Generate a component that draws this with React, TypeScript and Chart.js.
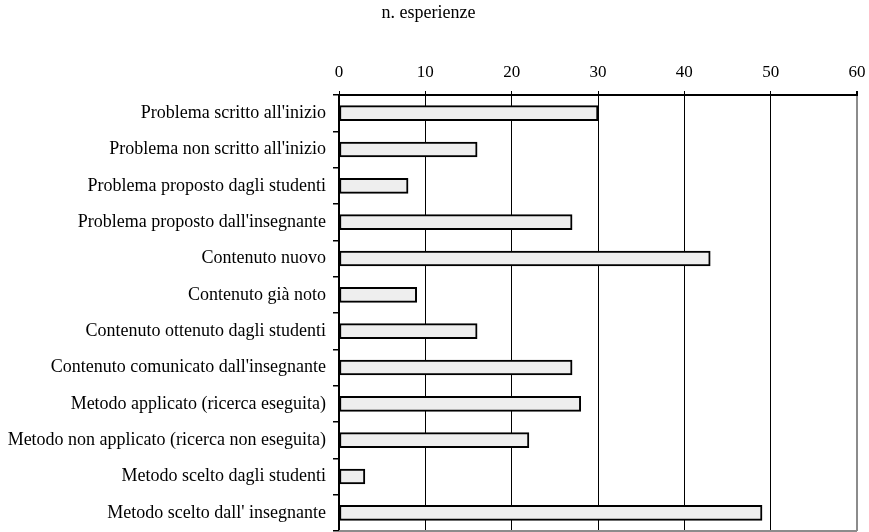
import React, { useEffect, useRef } from "react";
import { Chart, registerables } from "chart.js";

Chart.register(...registerables);

const title = "n. esperienze";
const categories = [
  "Problema scritto all'inizio",
  "Problema non scritto all'inizio",
  "Problema proposto dagli studenti",
  "Problema proposto dall'insegnante",
  "Contenuto nuovo",
  "Contenuto già noto",
  "Contenuto ottenuto dagli studenti",
  "Contenuto comunicato dall'insegnante",
  "Metodo applicato (ricerca eseguita)",
  "Metodo non applicato (ricerca non eseguita)",
  "Metodo scelto dagli studenti",
  "Metodo scelto dall' insegnante",
];
const values = [30, 16, 8, 27, 43, 9, 16, 27, 28, 22, 3, 49];
const axisMin = 0;
const axisMax = 60;
const axisStep = 10;

const FONT = "'Liberation Serif', 'Times New Roman', serif";

const bottomLine = {
  id: "bottomLine",
  afterDraw(chart: any) {
    const { ctx, chartArea } = chart;
    ctx.save();
    ctx.strokeStyle = "#8c8c8c";
    ctx.lineWidth = 2;
    ctx.beginPath();
    ctx.moveTo(chartArea.left, chartArea.bottom);
    ctx.lineTo(chartArea.right, chartArea.bottom);
    ctx.stroke();
    ctx.restore();
  },
};

export default function App() {
  const ref = useRef<HTMLCanvasElement>(null);
  useEffect(() => {
    document.body.style.margin = "0";
    const chart = new Chart(ref.current!, {
      type: "bar",
      data: {
        labels: categories,
        datasets: [
          {
            data: values,
            backgroundColor: "#eeeeee",
            borderColor: "#000000",
            borderWidth: 2,
            borderSkipped: false,
            barThickness: 15,
          },
        ],
      },
      plugins: [bottomLine],
      options: {
        indexAxis: "y",
        animation: false,
        responsive: false,
        devicePixelRatio: 1,
        layout: { padding: { left: 0, right: 12, top: 0, bottom: 1 } },
        plugins: {
          legend: { display: false },
          tooltip: { enabled: false },
          title: {
            display: true,
            text: title,
            color: "#000",
            font: { family: FONT, size: 18, weight: "normal" },
            padding: { top: 2, bottom: 8 },
          },
        },
        scales: {
          x: {
            position: "top",
            min: axisMin,
            max: axisMax,
            ticks: {
              stepSize: axisStep,
              color: "#000",
              font: { family: FONT, size: 17 },
              padding: 8,
              maxRotation: 0,
            },
            grid: {
              color: (c: any) => (c.tick && c.tick.value === axisMax ? "#8c8c8c" : "#000000"),
              tickColor: "#000000",
              lineWidth: (c: any) => (c.tick && c.tick.value === axisMax ? 2 : 1),
              tickLength: 4,
              drawOnChartArea: true,
            },
            border: { display: true, color: "#000", width: 2 },
            afterFit: (scale: any) => {
              scale.height = 95 - 31.6;
              scale.paddingLeft = 0;
              scale.paddingRight = 0;
            },
          },
          y: {
            ticks: {
              color: "#000",
              font: { family: FONT, size: 18 },
              padding: 7,
              autoSkip: false,
            },
            grid: {
              offset: true,
              drawOnChartArea: false,
              drawTicks: true,
              tickLength: 6,
              color: "#000",
              lineWidth: 1.5,
            },
            border: { display: true, color: "#000", width: 2 },
            afterFit: (scale: any) => {
              scale.width = 339;
              scale.paddingTop = 0;
              scale.paddingBottom = 0;
            },
          },
        },
      },
    } as any);
    return () => chart.destroy();
  }, []);
  return <canvas ref={ref} width={869} height={532} style={{ display: "block" }} />;
}
